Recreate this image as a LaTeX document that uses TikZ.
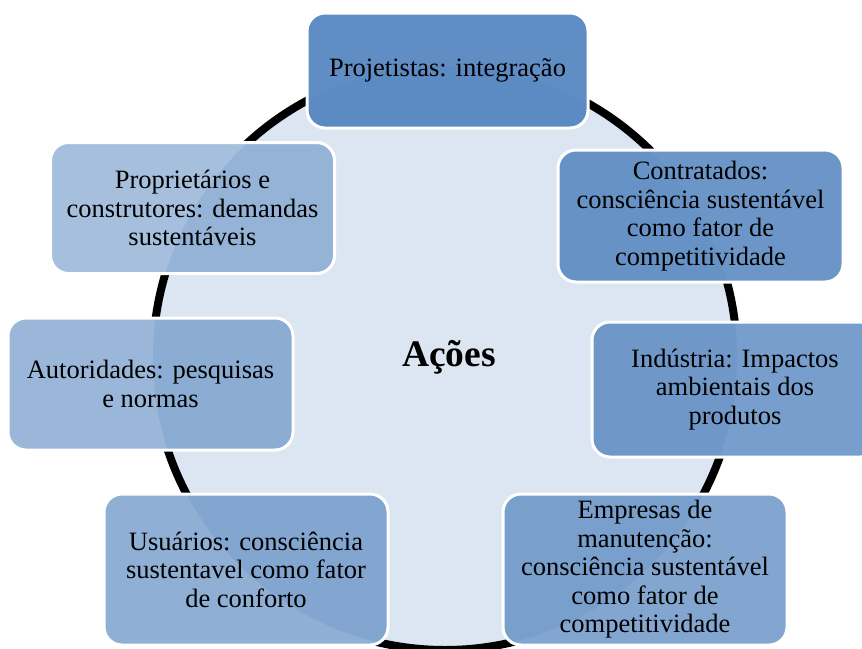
\documentclass[tikz,border=0pt]{standalone}
\usepackage{fontspec}
\setmainfont{Liberation Serif}
\definecolor{accent}{HTML}{4F81BD}
\definecolor{disc}{HTML}{DCE6F2}
\tikzset{
  actbox/.style={rounded corners=18pt, draw=white, line width=3pt, align=center,
    inner sep=0pt, font=\fontsize{26.5}{28.5}\selectfont,
    preaction={fill=white},
    path picture={
      \fill[disc] (hub) circle (292pt);
      \fill[accent, fill opacity=\op] (path picture bounding box.south west)
        rectangle (path picture bounding box.north east);
    }},
}
\begin{document}
\begin{tikzpicture}[x=1pt, y=-1pt]
  \useasboundingbox[fill=white] (0,0) rectangle (862,648);
  \coordinate (hub) at (445,358);
  \fill[disc] (hub) circle (292pt);
  \draw[line width=8pt] (hub) circle (292pt);
  \node[font=\bfseries\fontsize{37.5}{40}\selectfont] (acoes) at (449,357) {Ações};
  \foreach \nm/\cx/\cy/\w/\h/\op/\txt in {
      proj/447.5/70.5/281/115/0.9/{Projetistas: integração},
      contr/700.5/216/285/132/0.83/{Contratados:\\consciência sustentável\\como fator de\\competitividade},
      ind/735/389.5/286/135/0.77/{Indústria: Impactos\\ambientais dos\\produtos},
      manut/645/569.5/284/151/0.7/{Empresas de\\manutenção:\\consciência sustentável\\como fator de\\competitividade},
      usu/246/569.5/284/151/0.63/{Usuários: consciência\\sustentavel como fator\\de conforto},
      aut/150.5/384/285/132/0.57/{Autoridades: pesquisas\\e normas},
      prop/192.5/208/284/131/0.5/{Proprietários e\\construtores: demandas\\sustentáveis}} {
    \node[actbox, minimum width=\w pt, minimum height=\h pt] (\nm) at (\cx,\cy) {\txt};
  }
\end{tikzpicture}
\end{document}
